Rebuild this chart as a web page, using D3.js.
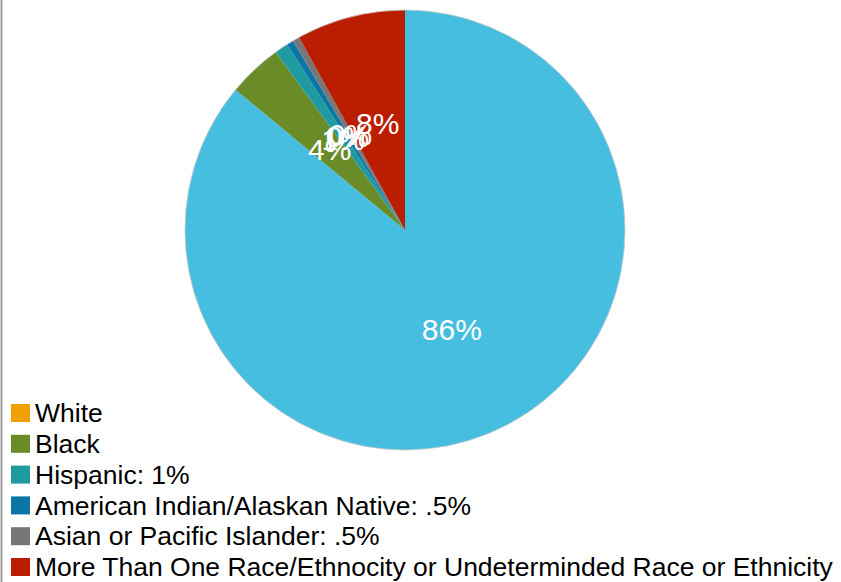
<!DOCTYPE html>
<html>
<head>
<meta charset="utf-8">
<script src="https://cdn.jsdelivr.net/npm/d3@7"></script>
<style>
  body { margin: 0; background: #fff; }
  svg { display: block; font-family: "Liberation Sans", Arial, sans-serif; }
</style>
</head>
<body>
<div class="race_pie"></div>
<script>
// slices in drawing order, clockwise from 12 o'clock
var categories = ["Unlisted", "Black", "Hispanic: 1%", "American Indian/Alaskan Native: .5%",
  "Asian or Pacific Islander: .5%", "More Than One Race/Ethnocity or Undeterminded Race or Ethnicity", "White"]
var values = [86, 4, 1, 0.5, 0.5, 8, 0]
var labels = ["86%", "4%", "1%", "0%", "0%", "8%", ""]
var colors = ["#46bee0", "#6a8c28", "#1f9aa0", "#0a76a6", "#777777", "#bb1d00", "#f0a000"]

// legend order as in the original
var legendItems = ["White", "Black", "Hispanic: 1%", "American Indian/Alaskan Native: .5%",
  "Asian or Pacific Islander: .5%", "More Than One Race/Ethnocity or Undeterminded Race or Ethnicity"]

var width = 841, height = 582,
  cx = 405, cy = 230, radius = 220;

var svg = d3.select(".race_pie").append("svg")
  .attr("width", width)
  .attr("height", height);

// left border
svg.append("line")
  .attr("x1", 1.5).attr("x2", 1.5)
  .attr("y1", 0).attr("y2", height)
  .style("stroke", "#9a9a9a")
  .style("stroke-width", 2)

var color = d3.scaleOrdinal().domain(categories).range(colors);

var data = categories.map(function (c, i) {
  return {name: c, value: values[i], label: labels[i]}
})

var pie = d3.pie().sort(null).value(function (d) { return d.value; });
var arc = d3.arc().innerRadius(0).outerRadius(radius);
var labelArc = d3.arc().innerRadius(radius / 2).outerRadius(radius / 2);

var g = svg.append("g").attr("transform", "translate(" + cx + "," + cy + ")");

var slices = pie(data);

g.selectAll(".slice")
  .data(slices)
  .enter().append("path")
    .attr("class", "slice")
    .attr("d", arc)
    .style("fill", function (d) { return color(d.data.name); })
    .style("stroke", "none")

g.append("circle")
  .attr("r", radius)
  .style("fill", "none")
  .style("stroke", "#c8c8c8")
  .style("stroke-width", 0.8)

g.selectAll(".lbl")
  .data(slices.filter(function (d) { return d.data.label; }))
  .enter().append("text")
    .attr("class", "lbl")
    .attr("transform", function (d) { return "translate(" + labelArc.centroid(d) + ")"; })
    .attr("text-anchor", "middle")
    .attr("dy", "0.35em")
    .style("fill", "#fff")
    .style("font-size", "30px")
    .text(function (d) { return d.data.label; });

var legend = svg.selectAll(".legend")
  .data(legendItems)
  .enter().append("g")
    .attr("class", "legend")
    .attr("transform", function (d, i) { return "translate(11," + (413 + i * 30.8) + ")"; });

legend.append("rect")
  .attr("x", 0).attr("y", -9)
  .attr("width", 19).attr("height", 18)
  .style("fill", function (d) { return color(d); });

legend.append("text")
  .attr("x", 24)
  .attr("dy", "0.35em")
  .style("font-size", "26.5px")
  .style("fill", "#000")
  .text(function (d) { return d; });
</script>
</body>
</html>
